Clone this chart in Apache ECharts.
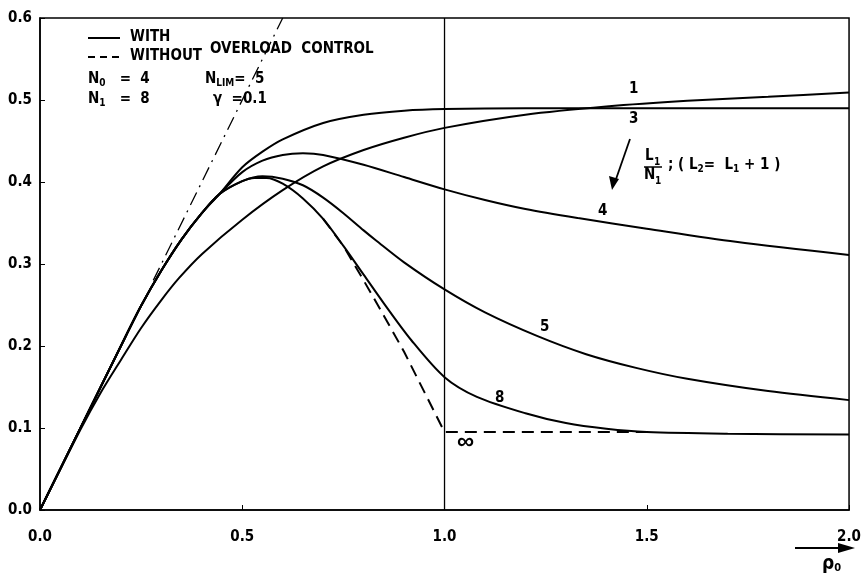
<!DOCTYPE html>
<html><head><meta charset="utf-8">
<script src="https://cdn.jsdelivr.net/npm/echarts@6/dist/echarts.min.js"></script>
<style>html,body{margin:0;padding:0;background:#fff}#c{width:864px;height:576px}</style>
</head><body><div id="c"></div>
<script>
// ---- data ----
const xTicks = [0.0, 0.5, 1.0, 1.5, 2.0];
const yTicks = [0.0, 0.1, 0.2, 0.3, 0.4, 0.5, 0.6];
const common = [[0,0],[0.1,0.1],[0.2,0.2],[0.25,0.249],[0.3,0.292],[0.35,0.33],[0.4,0.362],[0.443,0.385]];
const curve1 = [[0,0],[0.1,0.098],[0.15,0.143],[0.2,0.183],[0.25,0.222],[0.3,0.256],[0.344,0.283],[0.4,0.312],[0.5,0.354],[0.6,0.39],[0.7,0.419],[0.8,0.439],[0.9,0.454],[1.0,0.466],[1.2,0.482],[1.4,0.492],[1.6,0.499],[1.8,0.504],[2.0,0.509]];
const curve3 = [[0.5,0.418],[0.55,0.437],[0.6,0.452],[0.7,0.472],[0.8,0.482],[0.9,0.487],[1.0,0.489],[1.2,0.49],[1.6,0.49],[2.0,0.49]];
const curve4 = [[0.5,0.412],[0.55,0.426],[0.6,0.433],[0.65,0.435],[0.7,0.433],[0.8,0.421],[0.9,0.406],[1.0,0.391],[1.1,0.378],[1.2,0.367],[1.33,0.356],[1.5,0.343],[1.72,0.327],[2.0,0.311]];
const curve5 = [[0.5,0.401],[0.55,0.407],[0.6,0.404],[0.65,0.396],[0.7,0.381],[0.75,0.362],[0.8,0.341],[0.83,0.329],[0.9,0.302],[1.0,0.269],[1.1,0.241],[1.23,0.212],[1.35,0.19],[1.476,0.173],[1.6,0.16],[1.8,0.145],[2.0,0.134]];
const curve8 = [[0.5,0.401],[0.53,0.405],[0.56,0.405],[0.6,0.398],[0.65,0.38],[0.7,0.355],[0.75,0.322],[0.8,0.287],[0.85,0.252],[0.918,0.207],[1.0,0.162],[1.08,0.138],[1.2,0.118],[1.3,0.106],[1.4,0.099],[1.5,0.095],[1.7,0.093],[2.0,0.092]];
const curveInf = [[0.7,0.355],[0.75,0.322],[0.8,0.28],[0.85,0.237],[0.9,0.193],[0.95,0.144],[1.0,0.095],[1.51,0.095]];
const idealLine = [[0.28,0.28],[0.6,0.6]];
const vLine = [[1.0,0],[1.0,0.6]];

const FONT = "'DejaVu Sans Condensed','DejaVu Sans',sans-serif";
const chart = echarts.init(document.getElementById('c'), null, {renderer:'canvas'});
const solid = {color:'#000', width:2};
function ser(data, ls, smooth){
  return {type:'line', data:data, symbol:'none', smooth:smooth, lineStyle:ls, silent:true, z:3};
}
const F = 'bold 15px '+FONT;
const txt = (x,y,t) => ({type:'text', left:x, top:y, style:{text:t, fill:'#000', font:F}});
const richStyle = {
  s:{fontSize:10, fontWeight:'bold', fontFamily:FONT, fill:'#000', padding:[8,0,0,0]},
  n:{fontSize:15, fontWeight:'bold', fontFamily:FONT, fill:'#000'}
};
chart.setOption({
  animation:false,
  backgroundColor:'#fff',
  grid:{left:40, right:11, top:18, bottom:66, show:true, borderColor:'#000', borderWidth:1.5},
  xAxis:{type:'value', min:0, max:2, interval:0.5,
    axisLine:{lineStyle:{color:'#000', width:1.5}},
    axisTick:{inside:true, length:5, lineStyle:{color:'#000'}},
    splitLine:{show:false},
    axisLabel:{color:'#000', fontSize:15, fontWeight:'bold', fontFamily:FONT, margin:20, formatter:v=>v.toFixed(1)}},
  yAxis:{type:'value', min:0, max:0.6, interval:0.1,
    axisLine:{lineStyle:{color:'#000', width:1.5}},
    axisTick:{inside:true, length:5, lineStyle:{color:'#000'}},
    splitLine:{show:false},
    axisLabel:{color:'#000', fontSize:15, fontWeight:'bold', fontFamily:FONT, margin:8, formatter:v=>v.toFixed(1)}},
  series:[
    ser(common.concat(curve3), solid, 0.3),
    ser(common.concat(curve4), solid, 0.3),
    ser(common.concat(curve5), solid, 0.3),
    ser(common.concat(curve8), solid, 0.3),
    ser(curve1, solid, 0.3),
    ser(curveInf, {color:'#000', width:2, type:[12,7]}, false),
    ser(idealLine, {color:'#000', width:1.3, type:[14,6,2,6]}, false),
    ser(vLine, {color:'#000', width:1.3}, false)
  ],
  graphic:[
    {type:'line', shape:{x1:88,y1:38,x2:120,y2:38}, style:{stroke:'#000', lineWidth:2}},
    {type:'line', shape:{x1:88,y1:57,x2:120,y2:57}, style:{stroke:'#000', lineWidth:2, lineDash:[7,5]}},
    txt(130,30,'WITH'),
    txt(130,49,'WITHOUT'),
    txt(210,42,'OVERLOAD  CONTROL'),
    {type:'text', left:88, top:72, style:{text:'{n|N}{s|0}{n|   =  4}', rich:richStyle}},
    {type:'text', left:88, top:92, style:{text:'{n|N}{s|1}{n|   =  8}', rich:richStyle}},
    {type:'text', left:205, top:72, style:{text:'{n|N}{s|LIM}{n|=  5}', rich:richStyle}},
    txt(213,92,'γ  =0.1'),
    txt(629,82,'1'),
    txt(629,112,'3'),
    txt(598,204,'4'),
    txt(540,320,'5'),
    txt(495,391,'8'),
    {type:'text', left:457, top:430, style:{text:'∞', fill:'#000', font:"bold 24px 'Liberation Sans','Noto Sans',sans-serif"}},
    // arrow
    {type:'line', shape:{x1:630,y1:139,x2:615,y2:182}, style:{stroke:'#000', lineWidth:1.8}},
    {type:'polygon', shape:{points:[[612,190],[609,176],[619,179]]}, style:{fill:'#000'}},
    txt(645,149,'L'), {type:'text', left:654, top:157, style:{text:'1', fill:'#000', font:'bold 10px '+FONT}},
    {type:'line', shape:{x1:644,y1:167,x2:662,y2:167}, style:{stroke:'#000', lineWidth:1.5}},
    txt(644,168,'N'), {type:'text', left:655, top:176, style:{text:'1', fill:'#000', font:'bold 10px '+FONT}},
    {type:'text', left:668, top:158, style:{text:'{n|; ( L}{s|2}{n|=  L}{s|1}{n| + 1 )}', rich:richStyle}},
    // bottom-right rho arrow
    {type:'line', shape:{x1:795,y1:548,x2:845,y2:548}, style:{stroke:'#000', lineWidth:2}},
    {type:'polygon', shape:{points:[[855,548],[838,543],[838,553]]}, style:{fill:'#000'}},
    {type:'text', left:822, top:555, style:{text:'{n|ρ}{s|0}', rich:{n:{fontSize:19,fontWeight:'bold',fontFamily:FONT,fill:'#000'}, s:{fontSize:11,fontWeight:'bold',fontFamily:FONT,fill:'#000',padding:[8,0,0,0]}}}}
  ]
});
</script></body></html>
